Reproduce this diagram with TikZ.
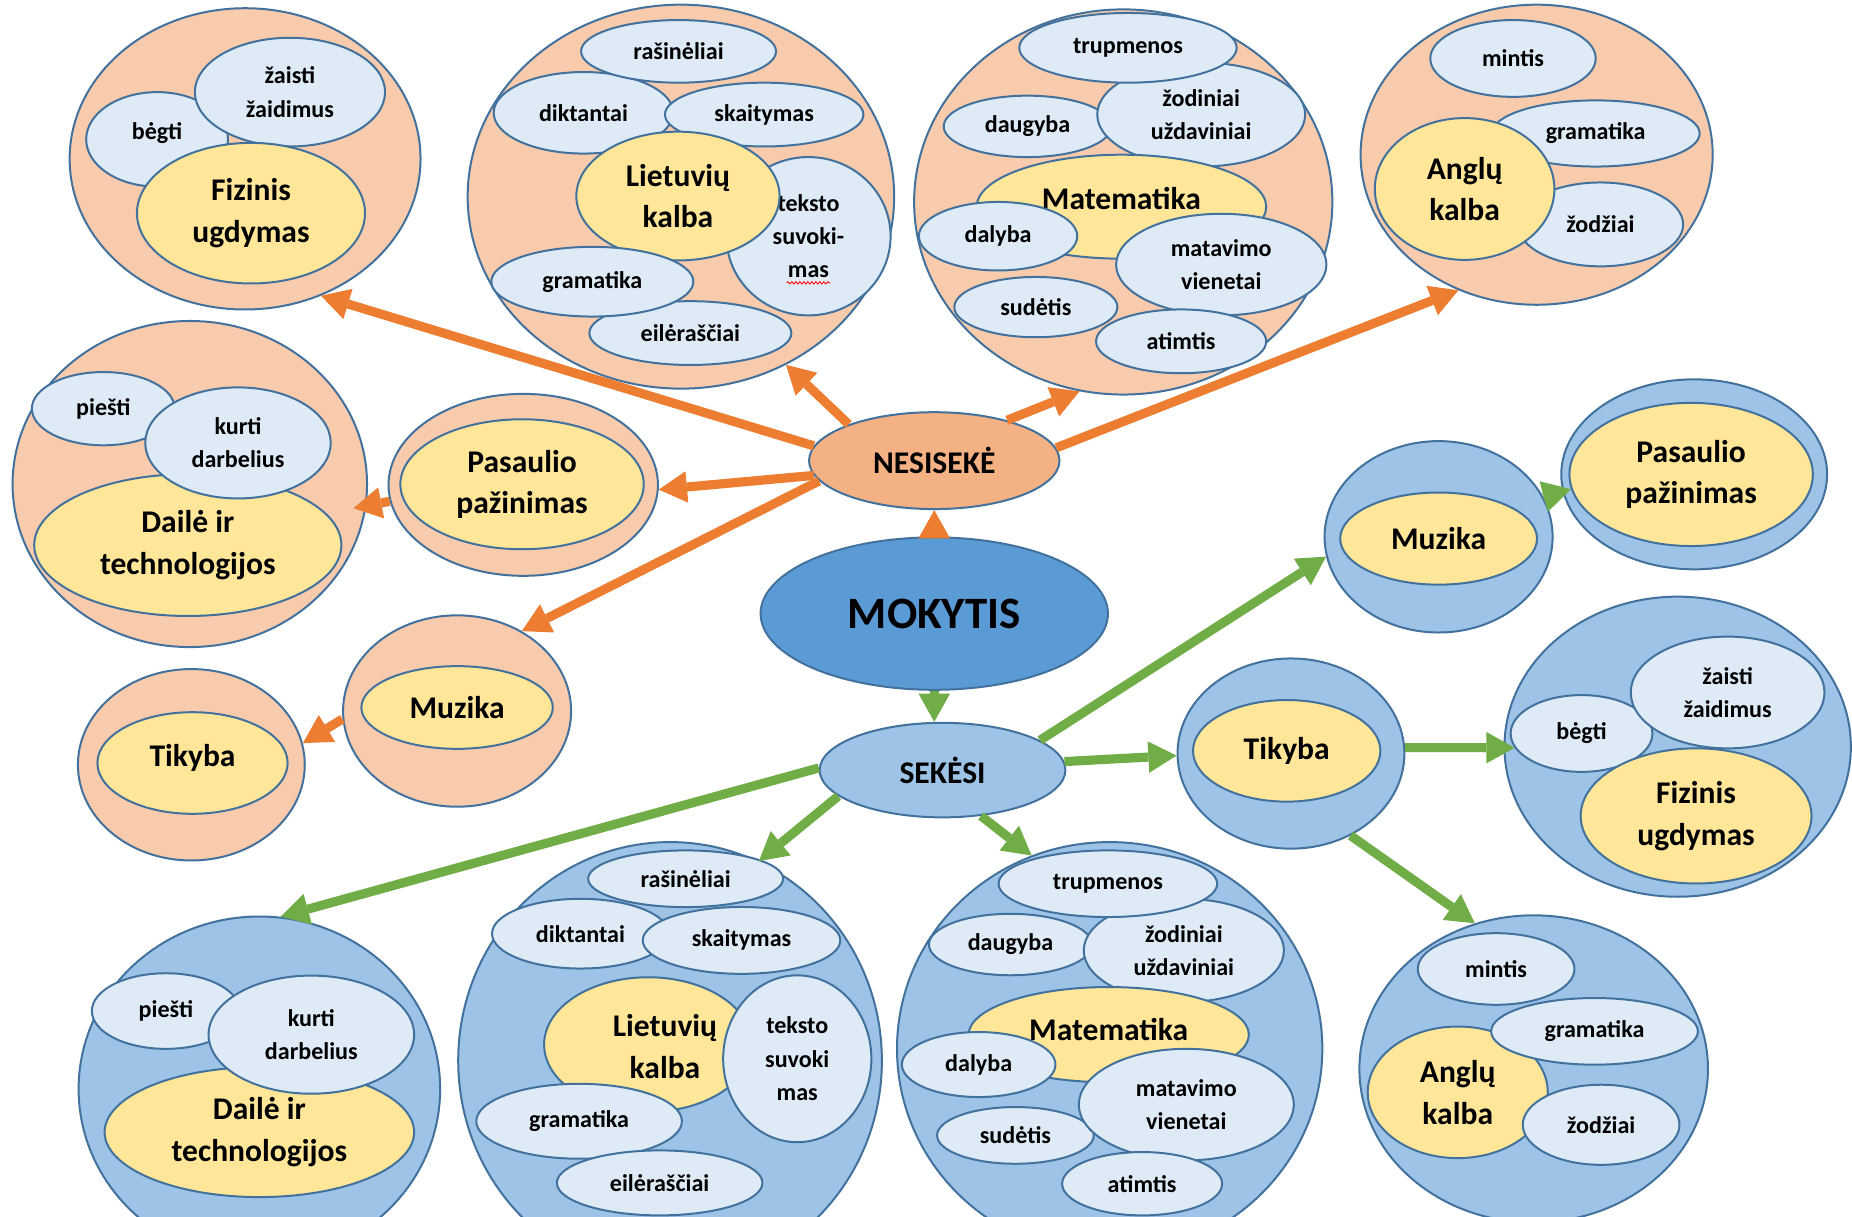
\documentclass[tikz,border=0pt]{standalone}
\usepackage{fontspec}
\setmainfont{Carlito}
\usetikzlibrary{shapes.geometric,arrows.meta,decorations.pathmorphing}

\definecolor{edge}{HTML}{41719C}
\definecolor{bagorange}{HTML}{F8CBAD}
\definecolor{bagblue}{HTML}{9DC3E6}
\definecolor{coreyellow}{HTML}{FFE699}
\definecolor{topicblue}{HTML}{DEEBF7}
\definecolor{nesfill}{HTML}{F4B183}
\definecolor{mokfill}{HTML}{5B9BD5}
\definecolor{nesline}{HTML}{ED7D31}
\definecolor{sekline}{HTML}{70AD47}

\tikzset{
  oval/.style={ellipse, draw=edge, line width=1.2pt, inner sep=0pt, align=center},
  sz/.style 2 args={minimum width=#1*0.05cm, minimum height=#2*0.05cm},
  lbl/.style={font=\bfseries\fontsize{14.5}{20}\selectfont},
  biglbl/.style={align=center, font=\bfseries\fontsize{19}{25}\selectfont},
  bagN/.style={oval, fill=bagorange},
  bagS/.style={oval, fill=bagblue},
  core/.style={oval, fill=coreyellow, biglbl},
  topic/.style={oval, fill=topicblue, lbl},
  hub/.style={oval, font=\bfseries\fontsize{19}{23}\selectfont},
  nesarrow/.style={draw=nesline, line width=5.5pt, -{Triangle[length=17pt,width=19pt,line width=0pt]}},
  sekarrow/.style={nesarrow, draw=sekline},
}

\begin{document}
\begin{tikzpicture}[x=0.025cm, y=-0.025cm]
\clip (0,0) rectangle (1568,1030);

% nesiseke
\node[bagN, sz={148.5}{127.5}] (fizN) at (207.5,134.5) {};
\node[topic, sz={60}{40}, text depth=10pt] (begN) at (133,118) {bėgti};
\node[topic, sz={80.5}{46}] (zaisN) at (245.5,78) {žaisti\\žaidimus};
\node[core, sz={96.5}{59.5}] (fizNc) at (212.5,180.5) {Fizinis\\ugdymas};

\node[bagN, sz={180.5}{162.5}] (lietN) at (576.5,166.5) {};
\node[topic, sz={76}{34.5}] (dikN) at (494,95.5) {diktantai};
\node[topic, sz={84}{27}] (skaN) at (647,97) {skaitymas};
\node[topic, sz={82.5}{26.5}] (rasN) at (574.5,43.5) {rašinėliai};
\node[topic, sz={69.5}{67}] (tekN) at (684.5,200) {teksto\\suvoki-\\mas};
\node[topic, sz={85.5}{27}] (eilN) at (584.5,282) {eilėraščiai};
\node[core, sz={86}{54.5}] (lietNc) at (574,166) {Lietuvių\\kalba};
\node[topic, sz={85.5}{29.5}] (gramLN) at (501.5,238.5) {gramatika};
\draw[red, line width=0.5pt, decorate, decoration={snake, amplitude=0.7pt, segment length=2.4pt}] (666,239.5) -- (703,239.5);

\node[bagN, sz={177}{163}] (matN) at (951,171) {};
\node[topic, sz={71}{26}] (dauN) at (870,107) {daugyba};
\node[topic, sz={88}{44}] (zodN) at (1017,97) {žodiniai\\uždaviniai};
\node[topic, sz={92}{29.5}] (trupN) at (955,40.5) {trupmenos};
\node[core, sz={122.5}{44}, text depth=10pt] (matNc) at (949.5,175) {Matematika};
\node[topic, sz={67}{29}] (dalN) at (845,200) {dalyba};
\node[topic, sz={89}{43}] (mavN) at (1034,224) {matavimo\\vienetai};
\node[topic, sz={69}{25.5}] (sudN) at (877,260) {sudėtis};
\node[topic, sz={72}{27}] (atiN) at (1000,289) {atimtis};

\node[bagN, sz={149}{127}] (angN) at (1301,131) {};
\node[topic, sz={70}{32.5}] (minN) at (1281,49.5) {mintis};
\node[topic, sz={88}{28}] (gramAN) at (1351,113) {gramatika};
\node[topic, sz={70}{35.5}] (zodzN) at (1355,190) {žodžiai};
\node[core, sz={76}{60}] (angNc) at (1240,160) {Anglų\\kalba};

\node[bagN, sz={150}{138}] (daiN) at (160.7,409.8) {};
\node[topic, sz={60.5}{31}] (pieN) at (87.5,346) {piešti};
\node[core, sz={130}{60}] (daiNc) at (159,461.5) {Dailė ir\\technologijos};
\node[topic, sz={78.5}{47}] (kurN) at (201.5,375) {kurti\\darbelius};

\node[bagN, sz={114}{77}] (pasN) at (443,410.5) {};
\node[core, sz={103}{55}] (pasNc) at (442,410) {Pasaulio\\pažinimas};

\node[bagN, sz={96.5}{81}] (muzN) at (387,602) {};
\node[core, sz={81}{35}] (muzNc) at (387,599) {Muzika};
\node[bagN, sz={96}{81}] (tikN) at (162,647.5) {};
\node[core, sz={80.5}{43}, text depth=9pt] (tikNc) at (163,646) {Tikyba};

% centras
\node[hub, fill=nesfill, sz={106}{41}] (nes) at (791,390) {NESISEKĖ};
\node[hub, fill=mokfill, sz={147}{64.5}, font=\bfseries\fontsize{27}{32}\selectfont] (mok) at (791,519.5) {MOKYTIS};
\node[hub, fill=bagblue, sz={104}{40}] (sek) at (798,652) {SEKĖSI};

% sekesi
\node[bagS, sz={96.5}{81}] (muzS) at (1218,454.5) {};
\node[core, sz={83.3}{39}] (muzSc) at (1218,456) {Muzika};
\node[bagS, sz={112.5}{80.4}] (pasS) at (1434.4,401.6) {};
\node[core, sz={103}{60.6}] (pasSc) at (1431.8,401.7) {Pasaulio\\pažinimas};
\node[bagS, sz={96}{80.5}] (tikS) at (1093,638) {};
\node[core, sz={79.3}{43}] (tikSc) at (1089.4,635.7) {Tikyba};

\node[bagS, sz={146.6}{127}] (fizS) at (1420.4,632.2) {};
\node[topic, sz={60}{32.5}] (begS) at (1339,621) {bėgti};
\node[topic, sz={82}{47.3}] (zaisS) at (1462.7,586.3) {žaisti\\žaidimus};
\node[core, sz={97.7}{57.2}] (fizSc) at (1436,690.8) {Fizinis\\ugdymas};

\node[bagS, sz={153}{146}] (daiS) at (219.6,922) {};
\node[topic, sz={62.7}{32}] (pieS) at (140.5,856) {piešti};
\node[core, sz={131}{55}] (daiSc) at (219.6,958.5) {Dailė ir\\technologijos};
\node[topic, sz={87}{50}] (kurS) at (263.6,876) {kurti\\darbelius};

\node[bagS, sz={179.3}{185}] (lietS) at (567.3,898) {};
\node[topic, sz={82.5}{24}] (rasS) at (580.5,744) {rašinėliai};
\node[topic, sz={74.8}{29.5}] (dikS) at (491.4,790.5) {diktantai};
\node[topic, sz={83.6}{28.3}] (skaS) at (627.8,796.2) {skaitymas};
\node[core, sz={88}{57}] (lietSc) at (548.7,884.4) {};
\node[biglbl] (lietSt) at (563,886) {Lietuvių\\kalba};
\node[topic, sz={62.7}{70.6}] (tekS) at (675,896.4) {teksto\\suvoki\\mas};
\node[topic, sz={87}{31.7}] (gramLS) at (490.3,949.3) {gramatika};
\node[topic, sz={87}{27.5}] (eilS) at (558.5,1001.5) {eilėraščiai};

\node[bagS, sz={180}{175}] (matS) at (939.5,888) {};
\node[topic, sz={69}{26}] (dauS) at (855.5,799.7) {daugyba};
\node[topic, sz={84.7}{43.7}] (zodS) at (1002.3,804.7) {žodiniai\\uždaviniai};
\node[topic, sz={92.5}{28.2}] (trupS) at (938,748.2) {trupmenos};
\node[core, sz={118.6}{40.3}, text depth=6pt] (matSc) at (938.7,876) {Matematika};
\node[topic, sz={65}{27.5}] (dalS) at (828.6,901.3) {dalyba};
\node[topic, sz={66.3}{24}] (sudS) at (859.7,961.3) {sudėtis};
\node[topic, sz={91}{47.2}] (mavS) at (1004.4,935.2) {matavimo\\vienetai};
\node[topic, sz={67.7}{26.8}] (atiS) at (967,1002.2) {atimtis};

\node[bagS, sz={147.5}{130}] (angS) at (1298.5,905) {};
\node[topic, sz={66.3}{30.3}] (minS) at (1266.7,820.4) {mintis};
\node[core, sz={76.2}{55.7}] (angSc) at (1234.2,924.8) {Anglų\\kalba};
\node[topic, sz={87.5}{28.2}] (gramAS) at (1350,873.2) {gramatika};
\node[topic, sz={66.3}{33.9}] (zodzS) at (1355.6,952.3) {žodžiai};

% rodykles
\draw[nesarrow] (mok.north) -- (nes.south);
\draw[nesarrow] (nes.173.4) -- (fizN.-61.2);
\draw[nesarrow] (nes.157.7) -- (lietN.-58.3);
\draw[nesarrow] (nes.29.3) -- (matN.-103.7);
\draw[nesarrow] (nes.6.7) -- (angN.-120.7);
\draw[nesarrow] (nes.187.2) -- (pasN.-2.3);
\draw[nesarrow] (nes.190.6) -- (muzN.51.8);
\draw[nesarrow] (muzN.184.3) -- (tikN.11.9);
\draw[nesarrow, shorten >=-8pt] (pasN.187.4) -- (daiN.-7.2);

\draw[sekarrow] (mok.south) -- (mok.south |- sek.north);
\draw[sekarrow] (sek.17.3) -- (muzS.190.4);
\draw[sekarrow] (sek.4.5) -- (tikS.181.7);
\draw[sekarrow] (sek.179.7) -- (daiS.83.2);
\draw[sekarrow] (sek.194.5) -- (lietS.66.7);
\draw[sekarrow] (sek.-50.7) -- (matS.112.9);
\draw[sekarrow] (muzS.21.6) -- (pasSc.187);
\draw[sekarrow] (tikS.3.5) -- (begS.192.3);
\draw[sekarrow] (tikS.-54.2) -- (angS.112.1);
\end{tikzpicture}
\end{document}
